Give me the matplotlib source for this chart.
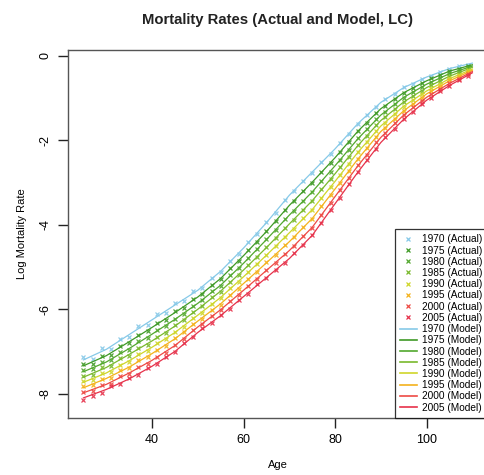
import numpy as np
import matplotlib
matplotlib.use("Agg")
import matplotlib.pyplot as plt
from matplotlib.lines import Line2D

plt.rcParams['font.family'] = ['Liberation Sans', 'DejaVu Sans']

years = [1970, 1975, 1980, 1985, 1990, 1995, 2000, 2005]

# model (LC fit), read every 5 years of age
model_ages = [25, 30, 35, 40, 45, 50, 55, 60, 65, 70, 75, 80, 85, 90, 95, 100, 105, 110]
model_1970 = [-7.20, -6.95, -6.60, -6.25, -5.90, -5.55, -5.10, -4.55, -3.95, -3.30, -2.75, -2.20, -1.60, -1.10, -0.75, -0.50, -0.30, -0.17]
model_1975 = [-7.34, -7.10, -6.77, -6.43, -6.08, -5.71, -5.27, -4.73, -4.16, -3.54, -2.99, -2.41, -1.78, -1.25, -0.87, -0.59, -0.36, -0.21]
model_1980 = [-7.48, -7.25, -6.93, -6.59, -6.24, -5.86, -5.43, -4.91, -4.35, -3.77, -3.22, -2.60, -1.96, -1.40, -0.98, -0.67, -0.42, -0.24]
model_1985 = [-7.61, -7.38, -7.07, -6.75, -6.40, -6.00, -5.57, -5.07, -4.54, -3.98, -3.43, -2.79, -2.12, -1.53, -1.09, -0.75, -0.48, -0.27]
model_1990 = [-7.73, -7.51, -7.22, -6.90, -6.55, -6.14, -5.72, -5.23, -4.72, -4.19, -3.64, -2.97, -2.28, -1.66, -1.19, -0.83, -0.54, -0.31]
model_1995 = [-7.86, -7.64, -7.37, -7.05, -6.70, -6.28, -5.87, -5.39, -4.90, -4.40, -3.85, -3.15, -2.44, -1.79, -1.30, -0.90, -0.59, -0.34]
model_2000 = [-7.98, -7.78, -7.51, -7.21, -6.86, -6.42, -6.01, -5.55, -5.08, -4.61, -4.06, -3.33, -2.60, -1.93, -1.40, -0.98, -0.65, -0.37]
model_2005 = [-8.10, -7.90, -7.65, -7.35, -7.00, -6.55, -6.15, -5.70, -5.25, -4.80, -4.25, -3.50, -2.75, -2.05, -1.50, -1.05, -0.70, -0.40]

# observed log rates, every 2 years of age
actual_ages = list(range(25, 110, 2))
actual_1970 = [-7.12, -7.18, -6.92, -6.95, -6.70, -6.66, -6.40, -6.38, -6.12, -6.08, -5.86, -5.80, -5.58, -5.50, -5.25, -5.13, -4.86, -4.69, -4.41, -4.21, -3.93, -3.71, -3.42, -3.21, -2.96, -2.77, -2.52, -2.32, -2.07, -1.85, -1.61, -1.39, -1.21, -1.02, -0.90, -0.74, -0.66, -0.55, -0.47, -0.37, -0.31, -0.24, -0.21]
actual_1975 = [-7.30, -7.29, -7.10, -7.08, -6.86, -6.81, -6.60, -6.52, -6.33, -6.25, -6.05, -5.96, -5.76, -5.64, -5.43, -5.29, -5.03, -4.86, -4.60, -4.41, -4.15, -3.92, -3.65, -3.44, -3.20, -3.00, -2.75, -2.53, -2.27, -2.04, -1.77, -1.58, -1.35, -1.19, -1.01, -0.88, -0.75, -0.65, -0.53, -0.46, -0.35, -0.31, -0.23]
actual_1980 = [-7.44, -7.42, -7.25, -7.21, -7.02, -6.96, -6.76, -6.69, -6.50, -6.40, -6.22, -6.11, -5.92, -5.79, -5.58, -5.45, -5.20, -5.03, -4.79, -4.58, -4.34, -4.13, -3.87, -3.67, -3.43, -3.23, -2.96, -2.74, -2.46, -2.23, -1.95, -1.74, -1.50, -1.32, -1.14, -0.99, -0.85, -0.74, -0.61, -0.53, -0.41, -0.36, -0.27]
actual_1985 = [-7.58, -7.55, -7.38, -7.35, -7.16, -7.10, -6.91, -6.84, -6.66, -6.56, -6.38, -6.26, -6.06, -5.93, -5.72, -5.59, -5.35, -5.19, -4.95, -4.77, -4.53, -4.32, -4.08, -3.88, -3.64, -3.44, -3.16, -2.92, -2.64, -2.40, -2.11, -1.89, -1.64, -1.45, -1.25, -1.10, -0.94, -0.83, -0.68, -0.60, -0.47, -0.41, -0.31]
actual_1990 = [-7.70, -7.68, -7.52, -7.48, -7.31, -7.25, -7.06, -6.99, -6.81, -6.71, -6.53, -6.41, -6.20, -6.08, -5.87, -5.74, -5.50, -5.35, -5.12, -4.94, -4.71, -4.51, -4.28, -4.09, -3.85, -3.65, -3.36, -3.11, -2.82, -2.56, -2.27, -2.04, -1.77, -1.58, -1.37, -1.20, -1.04, -0.91, -0.76, -0.66, -0.53, -0.46, -0.34]
actual_1995 = [-7.83, -7.80, -7.66, -7.62, -7.45, -7.39, -7.21, -7.14, -6.96, -6.86, -6.68, -6.55, -6.35, -6.22, -6.01, -5.89, -5.66, -5.51, -5.28, -5.11, -4.89, -4.71, -4.49, -4.30, -4.06, -3.86, -3.56, -3.30, -3.00, -2.73, -2.43, -2.19, -1.91, -1.70, -1.49, -1.31, -1.13, -0.99, -0.83, -0.73, -0.58, -0.50, -0.38]
actual_2000 = [-7.95, -7.94, -7.79, -7.76, -7.59, -7.54, -7.36, -7.30, -7.12, -7.03, -6.84, -6.70, -6.49, -6.36, -6.16, -6.03, -5.81, -5.66, -5.44, -5.29, -5.07, -4.90, -4.69, -4.51, -4.27, -4.07, -3.76, -3.49, -3.18, -2.90, -2.59, -2.34, -2.05, -1.83, -1.60, -1.41, -1.22, -1.07, -0.90, -0.79, -0.64, -0.55, -0.42]
actual_2005 = [-8.15, -8.05, -7.98, -7.82, -7.78, -7.62, -7.56, -7.39, -7.30, -7.12, -7.02, -6.80, -6.66, -6.45, -6.33, -6.13, -5.99, -5.77, -5.63, -5.41, -5.27, -5.06, -4.91, -4.68, -4.49, -4.24, -3.96, -3.64, -3.36, -3.04, -2.76, -2.46, -2.20, -1.93, -1.73, -1.49, -1.33, -1.13, -0.99, -0.83, -0.71, -0.57, -0.47]

model = [model_1970, model_1975, model_1980, model_1985, model_1990, model_1995, model_2000, model_2005]
actual = [actual_1970, actual_1975, actual_1980, actual_1985, actual_1990, actual_1995, actual_2000, actual_2005]

colors = ['#86c9e8', '#3f9a26', '#52a82e', '#79b92c', '#cfd62a', '#f4b21c', '#ee4a44', '#e6314a']

fig = plt.figure(figsize=(4.85, 4.75), dpi=100)
# right edge of the box falls just past the picture, as in the original
ax = fig.add_axes([0.140, 0.1206, 0.866, 0.7741])

for yr, m, a, c in zip(years, model, actual, colors):
    ax.plot(actual_ages, a, linestyle='none', marker='x', markersize=2.8,
            markeredgewidth=0.9, color=c, alpha=0.9)
    ax.plot(model_ages, m, color=c, linewidth=0.9)

ax.set_xlim(21.6, 113.4)
ax.set_ylim(-8.57, 0.14)
ax.set_xticks([40, 60, 80, 100])
ax.set_yticks([0, -2, -4, -6, -8])
ax.set_yticklabels(['0', '-2', '-4', '-6', '-8'], rotation=90, va='center')
ax.tick_params(axis='both', length=7, width=1, labelsize=9, color='#222222')
ax.tick_params(axis='x', pad=5)
ax.tick_params(axis='y', pad=5)
for s in ax.spines.values():
    s.set_color('#555555')
    s.set_linewidth(1)

ax.set_xlabel('Age', fontsize=8, labelpad=10)
ax.set_ylabel('Log Mortality Rate', fontsize=8, labelpad=9)
ax.set_title('Mortality Rates (Actual and Model, LC)', fontsize=10.7,
             fontweight='bold', pad=19, color='#222222')

handles = []
labels = []
for yr, c in zip(years, colors):
    handles.append(Line2D([], [], linestyle='none', marker='x', markersize=2.6,
                          markeredgewidth=0.9, color=c))
    labels.append('%d (Actual)' % yr)
for yr, c in zip(years, colors):
    handles.append(Line2D([], [], color=c, linewidth=1.2))
    labels.append('%d (Model)' % yr)

leg = ax.legend(handles, labels, loc='lower right', fontsize=7.3,
                frameon=True, fancybox=False, edgecolor='black',
                borderaxespad=0, labelspacing=0.12, handlelength=1.7,
                handletextpad=0.55, borderpad=0.5)
leg.get_frame().set_linewidth(0.9)

fig.savefig('out.png', dpi=100)
